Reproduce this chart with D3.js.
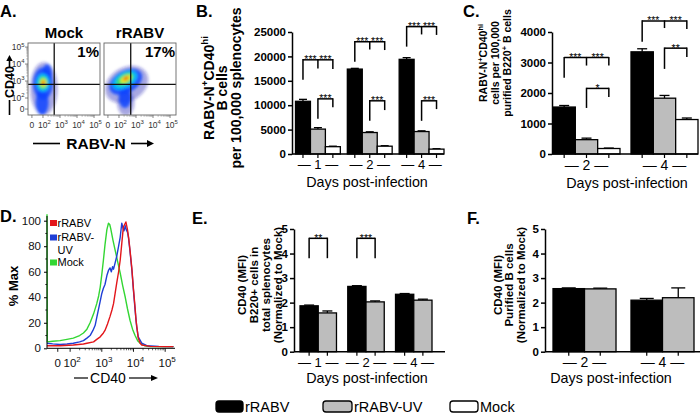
<!DOCTYPE html>
<html>
<head>
<meta charset="utf-8">
<script src="https://cdn.jsdelivr.net/npm/d3@7"></script>
<style>
html,body{margin:0;padding:0;background:#fff;}
svg{display:block;}
</style>
</head>
<body>
<svg id="chart" width="700" height="414" viewBox="0 0 700 414"></svg>
<script>
// ===================== DATA =====================
const groups = ["rRABV", "rRABV-UV", "Mock"];

// Panel B: RABV-N+CD40hi B cells per 100,000 splenocytes
const bDays = ["1", "2", "4"];
const bRABV = [10800, 17400, 19400];
const bRABVErr = [400, 150, 350];
const bUV = [5100, 4400, 4600];
const bUVErr = [300, 150, 150];
const bMock = [1500, 1600, 1000];
const bMockErr = [100, 100, 80];
const bTicks = [0, 5000, 10000, 15000, 20000, 25000];
const bSig = [
  {day: "1", bars: [0, 1, 2], top: 19300, ends: [15200, 17500, 17400], labels: ["***", "***"]},
  {day: "1", bars: [1, 2], top: 11300, ends: [7200, 9600], labels: ["***"]},
  {day: "2", bars: [0, 1, 2], top: 23000, ends: [18900, 21400, 21300], labels: ["***", "***"]},
  {day: "2", bars: [1, 2], top: 10900, ends: [6800, 9000], labels: ["***"]},
  {day: "4", bars: [0, 1, 2], top: 26100, ends: [22000, 24500, 24400], labels: ["***", "***"]},
  {day: "4", bars: [1, 2], top: 10900, ends: [6800, 9200], labels: ["***"]}
];

// Panel C: per 100,000 purified B220+ B cells
const cDays = ["2", "4"];
const cRABV = [1540, 3350];
const cRABVErr = [50, 100];
const cUV = [470, 1830];
const cUVErr = [50, 90];
const cMock = [180, 1130];
const cMockErr = [15, 50];
const cTicks = [0, 1000, 2000, 3000, 4000];
const cSig = [
  {day: "2", bars: [0, 1, 2], top: 3160, ends: [2500, 2900, 2900], labels: ["***", "***"]},
  {day: "2", bars: [1, 2], top: 2150, ends: [1510, 1870], labels: ["*"]},
  {day: "4", bars: [0, 1, 2], top: 4360, ends: [3680, 4130, 4100], labels: ["***", "***"]},
  {day: "4", bars: [1, 2], top: 3470, ends: [2790, 3180], labels: ["**"]}
];

// Panel E: CD40 MFI, B220+ cells in total splenocytes
const eDays = ["1", "2", "4"];
const eRABV = [1.87, 2.66, 2.34];
const eRABVErr = [0.03, 0.03, 0.03];
const eUV = [1.58, 2.03, 2.10];
const eUVErr = [0.08, 0.04, 0.04];
const eSig = [
  {day: "1", bars: [0, 1], top: 4.62, ends: [3.81, 3.81], labels: ["**"]},
  {day: "2", bars: [0, 1], top: 4.62, ends: [3.81, 3.81], labels: ["***"]}
];

// Panel F: CD40 MFI, purified B cells
const fDays = ["2", "4"];
const fRABV = [2.57, 2.10];
const fRABVErr = [0.03, 0.07];
const fUV = [2.56, 2.20];
const fUVErr = [0.03, 0.40];
const mfiTicks = [0, 1, 2, 3, 4, 5];

// Panel D: CD40 histogram (x in logicle display units: 10^k -> k, "0" -> 1.61)
const dTickPos = [1.61, 2, 3, 4, 5];
const dTickExp = ["", "2", "3", "4", "5"];
const dYTicks = [0, 20, 40, 60, 80, 100];
const dRABV = [[1.27,2],[1.68,2],[2.10,2.6],[2.42,3.4],[2.53,4],[2.74,5],[2.84,7],[2.95,9],[3.05,12],[3.10,14],[3.18,19],[3.26,25],[3.32,30],[3.37,35],[3.42,43],[3.47,51],[3.53,60],[3.58,69],[3.63,82],[3.68,95],[3.72,97],[3.76,99],[3.81,93],[3.85,86],[3.89,77],[3.95,62],[4.00,46],[4.05,32],[4.08,22],[4.15,8],[4.21,4],[4.26,2.6],[4.53,1.5],[5.0,1.3],[5.26,1.3]];
const dUV = [[1.27,4],[1.45,3.5],[1.68,3],[1.9,3.4],[2.10,4],[2.30,5],[2.42,6],[2.53,8],[2.63,10],[2.72,14],[2.79,18],[2.84,24],[2.89,30],[2.95,37],[3.00,43],[3.05,47],[3.10,50],[3.16,57],[3.21,61],[3.26,63],[3.30,60],[3.34,64],[3.37,62],[3.42,67],[3.47,72],[3.53,80],[3.58,87],[3.63,98],[3.66,95],[3.70,92],[3.74,96],[3.77,93],[3.81,91],[3.84,87],[3.89,76],[3.95,61],[4.00,45],[4.05,30],[4.10,17],[4.15,9],[4.26,4],[4.42,2],[4.8,1.5],[5.26,1.3]];
const dMock = [[1.27,105],[1.28,5],[1.45,5.5],[1.68,6],[1.9,7],[2.10,8],[2.30,10],[2.42,12],[2.53,15],[2.63,20],[2.74,27],[2.84,35],[2.90,41],[2.95,48],[3.00,58],[3.05,69],[3.10,81],[3.16,93],[3.21,98],[3.25,97],[3.28,94],[3.35,85],[3.42,77],[3.50,68],[3.58,59],[3.66,49],[3.74,40],[3.81,31],[3.89,22],[3.97,15],[4.05,10],[4.13,6],[4.21,4],[4.35,2],[4.53,1.3],[5.26,1.3]];

// Panel A: flow-cytometry density (x,y in logicle decades: 10^k -> k, "0" -> 1.35)
const aPanels = ["Mock", "rRABV"];
const aPercents = ["1%", "17%"];
const aGateX = [2.66, 2.69];
const aGateY = [2.8, 2.8];
const aTickPos = [1.35, 2, 3, 4, 5];
const aTickExp = ["", "2", "3", "4", "5"];
// density contours: [cx, cy, rx, ry, rotation, level]
const aMockDensity = [
  [2.05, 2.55, 0.80, 1.55, 0, 0],
  [2.0, 2.85, 0.58, 0.95, 0, 1],
  [1.95, 1.75, 0.38, 0.75, 0, 1],
  [2.25, 3.45, 0.28, 0.55, 0, 1],
  [2.0, 2.9, 0.40, 0.55, 0, 2],
  [2.0, 2.9, 0.28, 0.40, 0, 3],
  [2.02, 2.9, 0.17, 0.24, 0, 4],
  [2.02, 2.9, 0.11, 0.15, 0, 5],
  [2.02, 2.9, 0.06, 0.08, 0, 6]
];
const aRabvDensity = [
  [2.45, 2.8, 1.35, 1.0, -30, 0],
  [2.4, 1.7, 0.50, 0.75, 0, 0],
  [2.4, 2.95, 1.05, 0.65, -30, 1],
  [2.35, 2.0, 0.35, 0.6, 0, 1],
  [2.35, 3.05, 0.80, 0.45, -30, 2],
  [2.35, 3.1, 0.58, 0.32, -30, 3],
  [2.4, 3.12, 0.35, 0.18, -30, 4],
  [2.4, 3.15, 0.20, 0.10, -30, 5],
  [2.42, 3.15, 0.10, 0.06, -30, 6]
];

// ===================== STYLE =====================
const FONT = '"Liberation Sans", Arial, Helvetica, sans-serif';
const barFills = ["#000000", "#bdbdbd", "#ffffff"];
const lineColors = {rRABV: "#e3161b", UV: "#1f3fd6", Mock: "#33d633"};
const densityColors = ["#1c1cb4", "#1044ff", "#00b4ff", "#30e070", "#e8f020", "#ff9a00", "#e01010"];
const densityOpacity = [0.38, 0.85, 1, 1, 1, 1, 1];

const svg = d3.select("#chart");
svg.append("rect").attr("width", 700).attr("height", 414).attr("fill", "#fff");
const defs = svg.append("defs");
defs.append("filter").attr("id", "blur").attr("x", "-20%").attr("y", "-20%").attr("width", "140%").attr("height", "140%")
  .append("feGaussianBlur").attr("stdDeviation", 1.7);

function rich(g, x, y, parts, o) {
  const t = g.append("text").attr("x", x).attr("y", y)
    .attr("font-family", FONT).attr("font-size", o.size)
    .attr("font-weight", o.weight || "normal")
    .attr("text-anchor", o.anchor || "middle").attr("fill", o.fill || "#000");
  if (o.rotate) t.attr("transform", `rotate(${o.rotate},${x},${y})`);
  let raised = false;
  const shift = o.size * 0.42;
  parts.forEach(p => {
    const txt = Array.isArray(p) ? p[0] : p;
    const sup = Array.isArray(p) ? p[1] : false;
    const ts = t.append("tspan").text(txt);
    if (sup) {
      ts.attr("font-size", o.size * (o.supScale || 0.7));
      if (!raised) { ts.attr("dy", -shift); raised = true; }
    } else if (raised) { ts.attr("dy", shift); raised = false; }
  });
  return t;
}
function plain(g, x, y, txt, o) { return rich(g, x, y, [txt], o); }

// ===================== BAR PANELS =====================
function barPanel(o) {
  const g = svg.append("g");
  const x = d3.scaleBand().domain(o.days).range(o.band).paddingInner(o.pad).paddingOuter(0);
  const names = o.series.map(s => s.name);
  const xs = d3.scaleBand().domain(names).range([0, x.bandwidth()]);
  const y = d3.scaleLinear().domain([0, o.yMax]).range(o.yRange);
  const cx = (d, i) => x(d) + xs(names[i]) + xs.bandwidth() / 2;

  o.series.forEach((s, i) => {
    const rows = o.days.map((d, j) => ({d, v: s.values[j], e: s.errs[j]}));
    g.selectAll(null).data(rows).join("line")
      .attr("x1", r => cx(r.d, i)).attr("x2", r => cx(r.d, i))
      .attr("y1", r => y(r.v)).attr("y2", r => y(r.v + r.e))
      .attr("stroke", "#000").attr("stroke-width", 1.3);
    g.selectAll(null).data(rows).join("line")
      .attr("x1", r => cx(r.d, i) - o.cap).attr("x2", r => cx(r.d, i) + o.cap)
      .attr("y1", r => y(r.v + r.e)).attr("y2", r => y(r.v + r.e))
      .attr("stroke", "#000").attr("stroke-width", 1.3);
    g.selectAll(null).data(rows).join("rect")
      .attr("x", r => x(r.d) + xs(s.name)).attr("width", xs.bandwidth())
      .attr("y", r => y(r.v)).attr("height", r => y(0) - y(r.v))
      .attr("fill", barFills[i]).attr("stroke", "#000").attr("stroke-width", 1.3);
  });

  // y axis
  const ya = g.append("g").attr("transform", `translate(${o.axisX},0)`)
    .call(d3.axisLeft(y).tickValues(o.ticks).tickSize(4).tickSizeOuter(0).tickPadding(2).tickFormat(d3.format("d")));
  ya.attr("font-family", FONT).attr("font-size", 11.5).attr("font-weight", "bold");
  ya.select(".domain").attr("stroke", "#000").attr("stroke-width", 1.5);
  ya.selectAll(".tick line").attr("stroke", "#000").attr("stroke-width", 1.5);
  ya.selectAll(".tick text").attr("fill", "#000");

  // x axis
  g.append("line").attr("x1", o.axisX).attr("x2", o.axisEnd).attr("y1", y(0)).attr("y2", y(0))
    .attr("stroke", "#000").attr("stroke-width", 1.5);
  const tickXs = o.days.flatMap(d => names.map((n, i) => cx(d, i)));
  g.selectAll(null).data(tickXs).join("line")
    .attr("x1", d => d).attr("x2", d => d).attr("y1", y(0)).attr("y2", y(0) + 4)
    .attr("stroke", "#000").attr("stroke-width", 1.2);
  o.days.forEach(d => plain(g, x(d) + x.bandwidth() / 2, o.dayY, "\u2014 " + d + " \u2014", {size: o.daySize}));
  plain(g, o.xTitleX, o.xTitleY, "Days post-infection", {size: 14.3});

  // significance brackets
  (o.sig || []).forEach(s => {
    const px = s.bars.map(b => cx(s.day, b));
    const yt = y(s.top);
    g.append("line").attr("x1", px[0]).attr("x2", px[px.length - 1]).attr("y1", yt).attr("y2", yt)
      .attr("stroke", "#000").attr("stroke-width", 1.5);
    s.bars.forEach((b, k) => g.append("line").attr("x1", px[k]).attr("x2", px[k])
      .attr("y1", yt - 0.7).attr("y2", y(s.ends[k])).attr("stroke", "#000").attr("stroke-width", 1.5));
    const lx = px.length === 3 ? [(px[0] + px[1]) / 2, (px[1] + px[2]) / 2] : [(px[0] + px[1]) / 2];
    s.labels.forEach((l, k) => plain(g, lx[k], yt + 3.4, l, {size: 10.5}));
  });

  // y title
  o.yTitle.forEach((parts, k) => rich(g, o.yTitleX[k], o.yTitleY, parts,
    {size: o.yTitleSize, weight: "bold", rotate: -90}));
}

barPanel({
  days: bDays, band: [295.5, 444], pad: 0.135, yMax: 25000, yRange: [154, 32], ticks: bTicks,
  series: [{name: groups[0], values: bRABV, errs: bRABVErr}, {name: groups[1], values: bUV, errs: bUVErr}, {name: groups[2], values: bMock, errs: bMockErr}],
  axisX: 292, axisEnd: 444, cap: 4, dayY: 169, daySize: 13, xTitleX: 367, xTitleY: 187, sig: bSig,
  yTitle: [[["RABV-N"], ["+", true], ["CD40"], ["hi", true]], [["B cells"]], [["per 100,000 splenocytes"]]],
  yTitleX: [213.5, 227, 240.5], yTitleY: 88, yTitleSize: 14
});
barPanel({
  days: cDays, band: [553, 698], pad: 0.141, yMax: 4000, yRange: [154, 32], ticks: cTicks,
  series: [{name: groups[0], values: cRABV, errs: cRABVErr}, {name: groups[1], values: cUV, errs: cUVErr}, {name: groups[2], values: cMock, errs: cMockErr}],
  axisX: 552, axisEnd: 698, cap: 5, dayY: 170, daySize: 14, xTitleX: 627, xTitleY: 187.5, sig: cSig,
  yTitle: [[["RABV-N"], ["+", true], ["CD40"], ["hi", true]], [["cells per 100,000"]], [["purified B220"], ["+", true], [" B cells"]]],
  yTitleX: [487, 499, 511], yTitleY: 63, yTitleSize: 10.5
});
barPanel({
  days: eDays, band: [300, 432], pad: 0.236, yMax: 5, yRange: [351.7, 229], ticks: mfiTicks,
  series: [{name: groups[0], values: eRABV, errs: eRABVErr}, {name: groups[1], values: eUV, errs: eUVErr}],
  axisX: 294, axisEnd: 445, cap: 5, dayY: 366.5, daySize: 13, xTitleX: 367, xTitleY: 383, sig: eSig,
  yTitle: [[["CD40 (MFI)"]], [["B220+ cells in"]], [["total splenocytes"]], [["(Normalized to Mock)"]]],
  yTitleX: [246, 258, 270, 282], yTitleY: 285, yTitleSize: 11.5
});
barPanel({
  days: fDays, band: [553, 694], pad: 0.192, yMax: 5, yRange: [351.7, 229], ticks: mfiTicks,
  series: [{name: groups[0], values: fRABV, errs: fRABVErr}, {name: groups[1], values: fUV, errs: fUVErr}],
  axisX: 545, axisEnd: 700, cap: 7, dayY: 366.5, daySize: 14, xTitleX: 611, xTitleY: 383, sig: [],
  yTitle: [[["CD40 (MFI)"]], [["Purified B cells"]], [["(Normalized to Mock)"]]],
  yTitleX: [501.5, 513, 524.5], yTitleY: 285, yTitleSize: 11.5
});

// ===================== PANEL A =====================
function powLabel(g, x, y, exp, o) {
  if (exp === "") return plain(g, x, y, "0", o);
  return rich(g, x, y, [["10"], [exp, true]], o);
}
aPanels.forEach((name, i) => {
  const x0 = 28 + i * 76, x1 = x0 + 72;
  const ax = d3.scaleLinear().domain([1.12, 5.35]).range([x0, x1]);
  const ay = d3.scaleLinear().domain([1.0, 5.24]).range([115, 43]);
  const g = svg.append("g");
  const clipId = "clipA" + i;
  defs.append("clipPath").attr("id", clipId).append("rect")
    .attr("x", x0).attr("y", 43).attr("width", 72).attr("height", 72);
  const dens = g.append("g").attr("clip-path", `url(#${clipId})`).append("g").attr("filter", "url(#blur)");
  const blobs = i === 0 ? aMockDensity : aRabvDensity;
  dens.selectAll("ellipse").data(blobs).join("ellipse")
    .attr("cx", b => ax(b[0])).attr("cy", b => ay(b[1]))
    .attr("rx", b => ax(b[0] + b[2]) - ax(b[0])).attr("ry", b => ay(b[1]) - ay(b[1] + b[3]))
    .attr("transform", b => `rotate(${b[4]},${ax(b[0])},${ay(b[1])})`)
    .attr("fill", b => densityColors[b[5]]).attr("opacity", b => densityOpacity[b[5]]);
  // gates
  g.append("line").attr("x1", ax(aGateX[i])).attr("x2", ax(aGateX[i])).attr("y1", 43).attr("y2", 115)
    .attr("stroke", "#111").attr("stroke-width", 1.3);
  g.append("line").attr("x1", x0).attr("x2", x1).attr("y1", ay(aGateY[i])).attr("y2", ay(aGateY[i]))
    .attr("stroke", "#111").attr("stroke-width", 1.3);
  g.append("rect").attr("x", x0).attr("y", 43).attr("width", 72).attr("height", 72)
    .attr("fill", "none").attr("stroke", "#666").attr("stroke-width", 0.9);
  plain(g, (x0 + x1) / 2, 38, name, {size: 15, weight: "bold"});
  plain(g, x1 - 1, 57, aPercents[i], {size: 15, weight: "bold", anchor: "end"});
  // x ticks
  const minor = [2, 3, 4].flatMap(d => d3.range(2, 10).map(k => d + Math.log10(k)));
  g.selectAll(null).data(aTickPos).join("line").attr("x1", d => ax(d)).attr("x2", d => ax(d))
    .attr("y1", 115).attr("y2", 118).attr("stroke", "#555").attr("stroke-width", 0.7);
  g.selectAll(null).data(minor).join("line").attr("x1", d => ax(d)).attr("x2", d => ax(d))
    .attr("y1", 115).attr("y2", 116.8).attr("stroke", "#777").attr("stroke-width", 0.5);
  aTickPos.forEach((p, k) => powLabel(g, ax(p) + (k ? 1.5 : 0), 128, aTickExp[k], {size: 8.5, fill: "#333"}));
  if (i === 0) {
    g.selectAll(null).data(aTickPos).join("line").attr("y1", d => ay(d)).attr("y2", d => ay(d))
      .attr("x1", x0).attr("x2", x0 - 3).attr("stroke", "#555").attr("stroke-width", 0.7);
    g.selectAll(null).data(minor).join("line").attr("y1", d => ay(d)).attr("y2", d => ay(d))
      .attr("x1", x0).attr("x2", x0 - 1.8).attr("stroke", "#777").attr("stroke-width", 0.5);
    aTickPos.forEach((p, k) => powLabel(g, x0 - 3.5, ay(p) + 3, aTickExp[k], {size: 8.5, fill: "#333", anchor: "end"}));
  }
});
// A axis titles
{
  const g = svg.append("g");
  plain(g, 14, 82, "CD40", {size: 12.5, weight: "bold", rotate: -90});
  g.append("line").attr("x1", 9.5).attr("x2", 9.5).attr("y1", 100).attr("y2", 115).attr("stroke", "#000").attr("stroke-width", 1.6);
  g.append("line").attr("x1", 9.5).attr("x2", 9.5).attr("y1", 68).attr("y2", 59).attr("stroke", "#000").attr("stroke-width", 1.6);
  g.append("path").attr("d", "M9.5,55 L6.3,61 L12.7,61 Z").attr("fill", "#000");
  plain(g, 96, 149, "RABV-N", {size: 15.5, weight: "bold"});
  g.append("line").attr("x1", 33).attr("x2", 60).attr("y1", 143.5).attr("y2", 143.5).attr("stroke", "#000").attr("stroke-width", 1.6);
  g.append("line").attr("x1", 131).attr("x2", 148).attr("y1", 143.5).attr("y2", 143.5).attr("stroke", "#000").attr("stroke-width", 1.6);
  g.append("path").attr("d", "M154,143.5 L147,140 L147,147 Z").attr("fill", "#000");
}

// ===================== PANEL D =====================
{
  const g = svg.append("g");
  const dx = d3.scaleLinear().domain([1.27, 5.31]).range([47, 175]);
  const dy = d3.scaleLinear().domain([0, 100]).range([348.3, 220.7]);
  const line = d3.line().x(p => dx(p[0])).y(p => dy(p[1]));
  const series = [
    {pts: dMock, color: lineColors.Mock},
    {pts: dUV, color: lineColors.UV},
    {pts: dRABV, color: lineColors.rRABV}
  ];
  series.forEach(s => g.append("path").attr("d", line(s.pts)).attr("fill", "none")
    .attr("stroke", s.color).attr("stroke-width", 1.4).attr("stroke-linejoin", "round"));
  // axes
  const ya = g.append("g").attr("transform", "translate(47,0)")
    .call(d3.axisLeft(dy).tickValues(dYTicks).tickSize(3).tickSizeOuter(0).tickPadding(3));
  ya.attr("font-family", FONT).attr("font-size", 11.5);
  ya.select(".domain").remove();
  ya.selectAll(".tick text").attr("fill", "#111");
  g.selectAll(null).data(d3.range(10, 100, 20)).join("line").attr("y1", d => dy(d)).attr("y2", d => dy(d))
    .attr("x1", 47).attr("x2", 45.3).attr("stroke", "#000").attr("stroke-width", 0.8);
  g.append("line").attr("x1", 47).attr("x2", 47).attr("y1", dy(0)).attr("y2", 216).attr("stroke", "#000").attr("stroke-width", 1);
  g.append("line").attr("x1", 47).attr("x2", 175).attr("y1", dy(0)).attr("y2", dy(0)).attr("stroke", "#000").attr("stroke-width", 1);
  const minor = [2, 3, 4].flatMap(d => d3.range(2, 10).map(k => d + Math.log10(k)));
  g.selectAll(null).data(dTickPos).join("line").attr("x1", d => dx(d)).attr("x2", d => dx(d))
    .attr("y1", dy(0)).attr("y2", dy(0) + 3.5).attr("stroke", "#000").attr("stroke-width", 0.9);
  g.selectAll(null).data(minor).join("line").attr("x1", d => dx(d)).attr("x2", d => dx(d))
    .attr("y1", dy(0)).attr("y2", dy(0) + 2).attr("stroke", "#000").attr("stroke-width", 0.6);
  dTickPos.forEach((p, k) => powLabel(g, dx(p) + (k ? 2 : 0), 366.5, dTickExp[k], {size: 11.5, fill: "#111"}));
  plain(g, 17.5, 286, "% Max", {size: 13, weight: "bold", rotate: -90});
  // x title with arrow
  plain(g, 108, 383, "CD40", {size: 14});
  g.append("line").attr("x1", 74).attr("x2", 88).attr("y1", 378).attr("y2", 378).attr("stroke", "#000").attr("stroke-width", 1.2);
  g.append("line").attr("x1", 129).attr("x2", 152).attr("y1", 378).attr("y2", 378).attr("stroke", "#000").attr("stroke-width", 1.2);
  g.append("path").attr("d", "M158,378 L151,375 L151,381 Z").attr("fill", "#000");
  // legend
  const leg = [
    {color: lineColors.rRABV, lines: ["rRABV"], y: 226.5},
    {color: lineColors.UV, lines: ["rRABV-", "UV"], y: 241},
    {color: lineColors.Mock, lines: ["Mock"], y: 266}
  ];
  leg.forEach(l => {
    g.append("rect").attr("x", 50).attr("y", l.y - 6.5).attr("width", 7).attr("height", 6).attr("fill", l.color);
    l.lines.forEach((t, k) => plain(g, 57.5, l.y + k * 12.5, t, {size: 11, anchor: "start"}));
  });
}

// ===================== PANEL LETTERS =====================
[["A.", 0, 17], ["B.", 196, 17], ["C.", 463, 17], ["D.", 0, 222], ["E.", 192, 224], ["F.", 467, 224]]
  .forEach(p => plain(svg, p[1], p[2], p[0], {size: 16.5, weight: "bold", anchor: "start"}));

// ===================== LEGEND =====================
{
  const g = svg.append("g");
  const pos = [{x: 216, w: 27}, {x: 323, w: 29}, {x: 450, w: 28}];
  groups.forEach((name, i) => {
    g.append("rect").attr("x", pos[i].x).attr("y", 401).attr("width", pos[i].w).attr("height", 11).attr("rx", 3)
      .attr("fill", barFills[i]).attr("stroke", "#000").attr("stroke-width", 1.3);
    plain(g, pos[i].x + pos[i].w + 2, 411.5, name, {size: 14.5, anchor: "start"});
  });
}
</script>
</body>
</html>
